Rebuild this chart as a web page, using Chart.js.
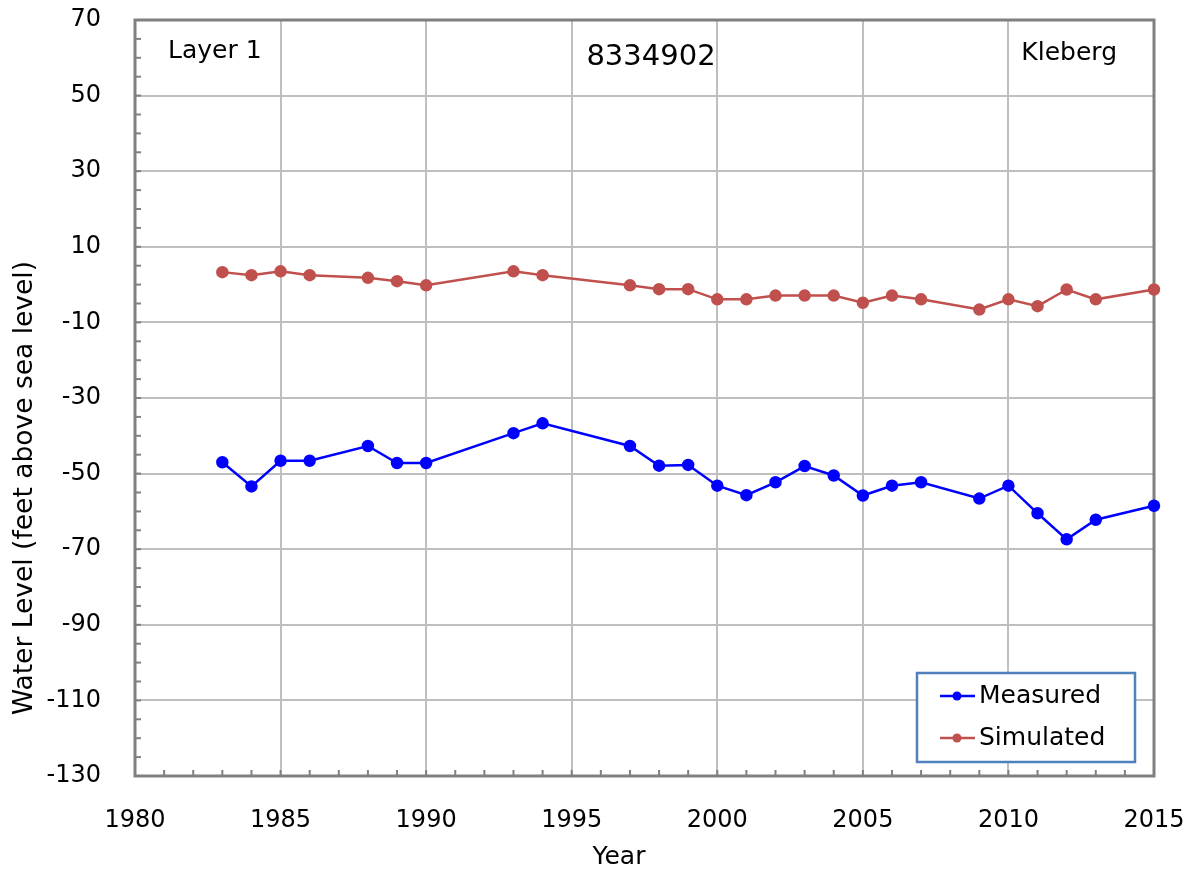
<!DOCTYPE html>
<html>
<head>
<meta charset="utf-8">
<script src="https://cdn.jsdelivr.net/npm/chart.js@4.4.1/dist/chart.umd.min.js"></script>
<style>
  html, body { margin: 0; padding: 0; background: #ffffff; }
  #wrap { width: 1198px; height: 871px; }
</style>
</head>
<body>
<div id="wrap"><canvas id="c" width="1198" height="871"></canvas></div>
<script>
// ---- data ----
const years = [1983, 1984, 1985, 1986, 1988, 1989, 1990, 1993, 1994, 1997, 1998, 1999,
               2000, 2001, 2002, 2003, 2004, 2005, 2006, 2007, 2009, 2010, 2011, 2012, 2013, 2015];
const measured = [-47.0, -53.4, -46.6, -46.6, -42.7, -47.2, -47.2, -39.3, -36.7, -42.7, -47.9, -47.7,
                  -53.2, -55.7, -52.3, -48.0, -50.5, -55.8, -53.2, -52.3, -56.6, -53.2, -60.5, -67.4, -62.2, -58.5];
const simulated = [3.3, 2.5, 3.5, 2.5, 1.8, 0.9, -0.2, 3.5, 2.5, -0.2, -1.2, -1.2,
                   -3.9, -3.9, -2.9, -2.9, -2.9, -4.8, -2.9, -3.9, -6.6, -3.9, -5.7, -1.3, -3.9, -1.3];
const seriesNames = ['Measured', 'Simulated'];
const xTickValues = [1980, 1985, 1990, 1995, 2000, 2005, 2010, 2015];
const yTickValues = [-130, -110, -90, -70, -50, -30, -10, 10, 30, 50, 70];
const xTitle = 'Year';
const yTitle = 'Water Level (feet above sea level)';
const labelLeft = 'Layer 1';
const labelCenter = '8334902';
const labelRight = 'Kleberg';

const FONT = '"DejaVu Sans", sans-serif';
const BLUE = '#0000ff';
const RED = '#c0504d';
const GRID = '#bfbfbf';
const FRAME = '#808080';

const toPoints = (xs, ys) => xs.map((x, i) => ({ x: x, y: ys[i] }));

const framePlugin = {
  id: 'frame',
  beforeDatasetsDraw(chart) {
    const { ctx, chartArea: a, scales } = chart;
    ctx.save();
    ctx.strokeStyle = FRAME;
    ctx.lineWidth = 2;
    for (let v = -130; v <= 70; v += 5) {
      const y = scales.y.getPixelForValue(v);
      ctx.beginPath(); ctx.moveTo(a.left, y); ctx.lineTo(a.left + 6, y); ctx.stroke();
    }
    for (let v = 1980; v <= 2015; v += 1) {
      const x = scales.x.getPixelForValue(v);
      ctx.beginPath(); ctx.moveTo(x, a.bottom); ctx.lineTo(x, a.bottom - 6); ctx.stroke();
    }
    ctx.lineWidth = 3;
    ctx.strokeRect(a.left, a.top, a.right - a.left, a.bottom - a.top);
    ctx.restore();
  },
  afterDraw(chart) {
    const { ctx } = chart;
    ctx.save();
    ctx.fillStyle = '#000';
    ctx.textBaseline = 'middle';
    ctx.font = '25px ' + FONT;
    ctx.textAlign = 'left';
    ctx.fillText(labelLeft, 168, 51);
    ctx.textAlign = 'right';
    ctx.fillText(labelRight, 1117, 53);
    ctx.textAlign = 'center';
    ctx.font = '29px ' + FONT;
    ctx.fillText(labelCenter, 651, 57);
    ctx.font = '25px ' + FONT;
    ctx.fillText(xTitle, 619, 857);
    ctx.save();
    ctx.translate(25, 488);
    ctx.rotate(-Math.PI / 2);
    ctx.font = '26.5px ' + FONT;
    ctx.fillText(yTitle, 0, 0);
    ctx.restore();
    const bx = 917, by = 673, bw = 218, bh = 89;
    ctx.fillStyle = '#fff';
    ctx.fillRect(bx, by, bw, bh);
    ctx.strokeStyle = '#4f81bd';
    ctx.lineWidth = 2.5;
    ctx.strokeRect(bx, by, bw, bh);
    const rows = [696, 738];
    chart.data.datasets.forEach((ds, i) => {
      const y = rows[i];
      ctx.strokeStyle = ds.borderColor;
      ctx.lineWidth = 2.5;
      ctx.beginPath(); ctx.moveTo(940, y); ctx.lineTo(975, y); ctx.stroke();
      ctx.fillStyle = ds.pointBackgroundColor;
      ctx.beginPath(); ctx.arc(957, y, 4.5, 0, Math.PI * 2); ctx.fill();
      ctx.fillStyle = '#000';
      ctx.textAlign = 'left';
      ctx.font = '25px ' + FONT;
      ctx.fillText(ds.label, 979, y);
    });
    ctx.restore();
  }
};

new Chart(document.getElementById('c'), {
  type: 'line',
  data: {
    datasets: [
      {
        label: seriesNames[0],
        data: toPoints(years, measured),
        borderColor: BLUE, backgroundColor: BLUE,
        pointBackgroundColor: BLUE, pointBorderColor: BLUE,
        borderWidth: 2.5, pointRadius: 5, pointStyle: 'circle',
        tension: 0, clip: false
      },
      {
        label: seriesNames[1],
        data: toPoints(years, simulated),
        borderColor: RED, backgroundColor: RED,
        pointBackgroundColor: RED, pointBorderColor: RED,
        borderWidth: 2.5, pointRadius: 5, pointStyle: 'circle',
        tension: 0, clip: false
      }
    ]
  },
  options: {
    responsive: false,
    animation: false,
    devicePixelRatio: 1,
    layout: { padding: { top: 20, right: 44, left: 0, bottom: 0 } },
    plugins: { legend: { display: false }, tooltip: { enabled: false } },
    scales: {
      x: {
        type: 'linear', min: 1980, max: 2015,
        afterBuildTicks: s => { s.ticks = xTickValues.map(v => ({ value: v })); },
        afterFit: s => { s.height = 95; s.paddingLeft = 0; s.paddingRight = 0; },
        ticks: { color: '#000', font: { family: FONT, size: 24 }, padding: 30, maxRotation: 0, autoSkip: false,
                 callback: v => String(v) },
        grid: { color: GRID, lineWidth: 2, drawTicks: false },
        border: { display: false }
      },
      y: {
        type: 'linear', min: -130, max: 70,
        afterBuildTicks: s => { s.ticks = yTickValues.map(v => ({ value: v })); },
        afterFit: s => { s.width = 135; s.paddingTop = 0; s.paddingBottom = 0; },
        ticks: { color: '#000', font: { family: FONT, size: 24 }, padding: 34, autoSkip: false,
                 callback: v => String(v) },
        grid: { color: GRID, lineWidth: 2, drawTicks: false },
        border: { display: false }
      }
    }
  },
  plugins: [framePlugin]
});
</script>
</body>
</html>
